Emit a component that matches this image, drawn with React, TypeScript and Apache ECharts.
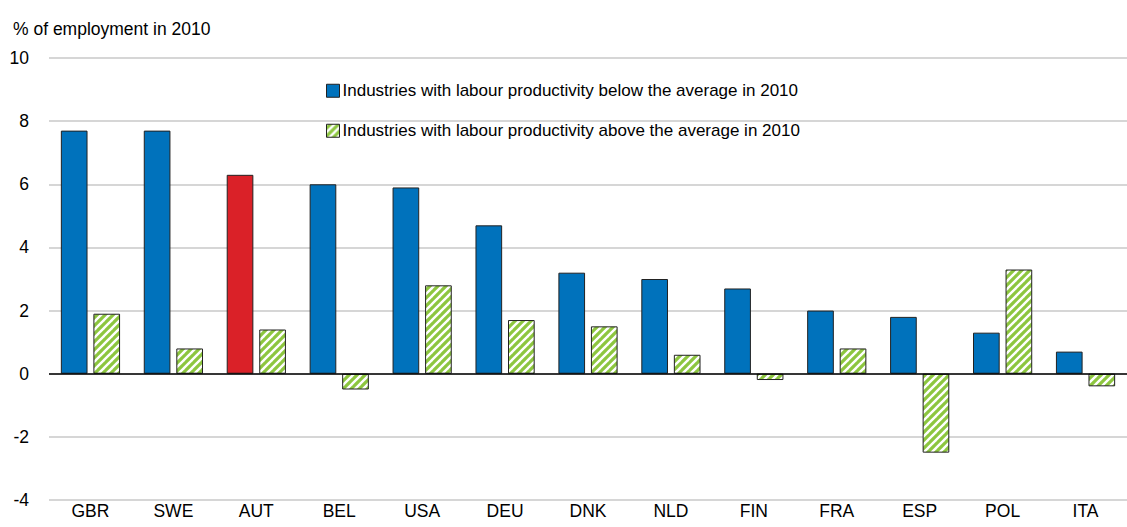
import React, { useEffect, useRef } from "react";
import * as echarts from "echarts";

const categories = ["GBR", "SWE", "AUT", "BEL", "USA", "DEU", "DNK", "NLD", "FIN", "FRA", "ESP", "POL", "ITA"];
const belowAverage = [7.7, 7.7, 6.3, 6.0, 5.9, 4.7, 3.2, 3.0, 2.7, 2.0, 1.8, 1.3, 0.7];
const aboveAverage = [1.9, 0.8, 1.4, -0.5, 2.8, 1.7, 1.5, 0.6, -0.2, 0.8, -2.5, 3.3, -0.4];
const highlighted = "AUT";
const seriesNames = [
  "Industries with labour productivity below the average in 2010",
  "Industries with labour productivity above the average in 2010",
];
const yTitle = "% of employment in 2010";

const FONT = "'Liberation Sans', Arial, sans-serif";
const FS = 17.5;

function makeHatch(): HTMLCanvasElement {
  const c = document.createElement("canvas");
  c.width = 8;
  c.height = 8;
  const ctx = c.getContext("2d")!;
  ctx.fillStyle = "#8DC63F";
  ctx.fillRect(0, 0, 8, 8);
  ctx.strokeStyle = "#ffffff";
  ctx.lineWidth = 2.4;
  const segs = [
    [-4, 4, 4, -4],
    [0, 8, 8, 0],
    [4, 12, 12, 4],
  ];
  for (const [x1, y1, x2, y2] of segs) {
    ctx.beginPath();
    ctx.moveTo(x1, y1);
    ctx.lineTo(x2, y2);
    ctx.stroke();
  }
  return c;
}

export default function App() {
  const ref = useRef<HTMLDivElement>(null);
  useEffect(() => {
    if (!ref.current) return;
    const chart = echarts.init(ref.current, undefined, { renderer: "svg" });
    const hatch = makeHatch();
    const pattern: any = { image: hatch, repeat: "repeat", imageWidth: 8, imageHeight: 8 };
    const blue = "#0072BC";
    const red = "#DA2128";
    chart.setOption({
      animation: false,
      backgroundColor: "#ffffff",
      title: {
        text: yTitle,
        left: 13,
        top: 20,
        padding: 0,
        textStyle: { fontFamily: FONT, fontSize: FS, fontWeight: "normal", color: "#000", lineHeight: FS },
      },
      legend: {
        orient: "vertical",
        left: 326,
        top: 82,
        padding: 0,
        itemGap: 22.5,
        itemWidth: 13,
        itemHeight: 13,
        icon: "rect",
        itemStyle: { borderColor: "#222", borderWidth: 1 },
        textStyle: { fontFamily: FONT, fontSize: 17, color: "#000", lineHeight: FS, padding: [0, 0, 0, -2] },
        data: seriesNames,
      },
      grid: { left: 49, top: 58, width: 1093, bottom: 27, containLabel: false },
      xAxis: {
        type: "category",
        data: categories,
        axisLine: { show: false, onZero: false },
        axisTick: { show: false },
        axisLabel: { fontFamily: FONT, fontSize: FS, color: "#000", margin: 2, lineHeight: FS },
        splitLine: { show: false },
      },
      yAxis: {
        type: "value",
        min: -4,
        max: 10,
        interval: 2,
        axisLine: { show: false },
        axisTick: { show: false },
        axisLabel: { fontFamily: FONT, fontSize: FS, color: "#000", margin: 20 },
        splitLine: { lineStyle: { color: "#C8C8C8", width: 1.5 } },
      },
      series: [
        {
          name: seriesNames[0],
          type: "bar",
          barGap: "22%",
          barCategoryGap: "28.6%",
          itemStyle: { color: blue, borderColor: "#222", borderWidth: 1 },
          data: belowAverage.map((v, i) =>
            categories[i] === highlighted ? { value: v, itemStyle: { color: red } } : v
          ),
          markLine: {
            silent: true,
            symbol: "none",
            label: { show: false },
            lineStyle: { color: "#000", width: 1.5, type: "solid" },
            data: [{ yAxis: 0 }],
            z: 10,
          },
        },
        {
          name: seriesNames[1],
          type: "bar",
          itemStyle: { color: pattern, borderColor: "#222", borderWidth: 1 },
          data: aboveAverage,
        },
      ],
    });
    return () => chart.dispose();
  }, []);
  return (
    <div
      ref={ref}
      style={{ position: "fixed", left: 0, top: 0, width: 1127, height: 527, overflow: "hidden", background: "#fff" }}
    />
  );
}
